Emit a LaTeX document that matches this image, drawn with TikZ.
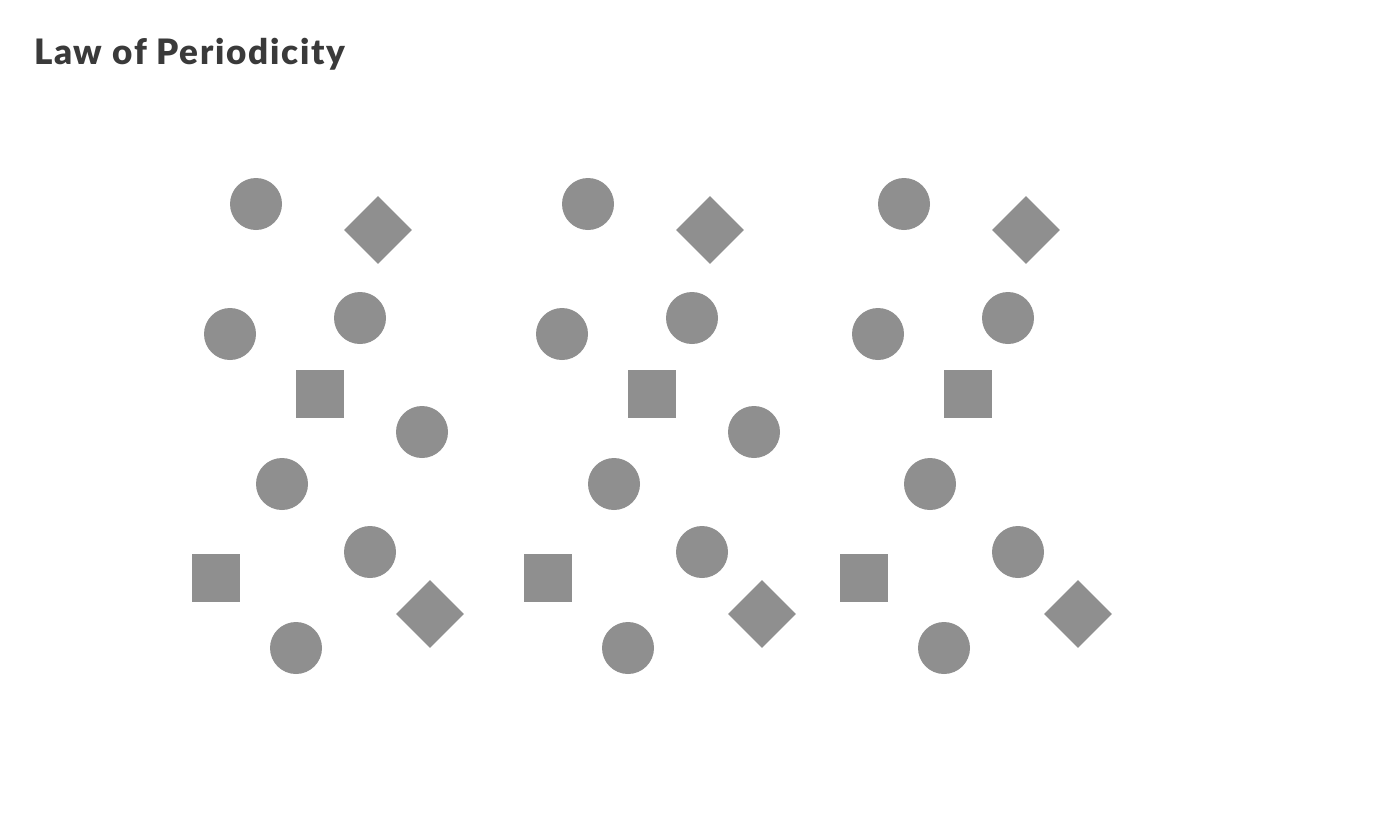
\documentclass[tikz,border=0pt]{standalone}
\usepackage{fontspec}
\setmainfont{Lato}
\newfontfamily\titlefont{Lato Black}[LetterSpace=5]
\usetikzlibrary{shapes.geometric}
\definecolor{shapegray}{HTML}{8F8F8F}
\definecolor{titlegray}{HTML}{3A3A3A}
\tikzset{
  dot/.style={circle,fill=shapegray,draw=none,inner sep=0pt,minimum size=52pt},
  sq/.style={rectangle,fill=shapegray,draw=none,inner sep=0pt,minimum size=48pt},
  dia/.style={diamond,fill=shapegray,draw=none,inner sep=0pt,minimum width=68pt,minimum height=68pt,aspect=1},
}
\begin{document}
\begin{tikzpicture}[x=1pt,y=-1pt]
\useasboundingbox (0,0) rectangle (1376,822);
\fill[white] (0,0) rectangle (1376,822);
\node[anchor=base west,inner sep=0pt,text=titlegray,font=\titlefont\fontsize{35}{40}\selectfont] (title) at (34,64) {Law of Periodicity};
\foreach \g/\dx in {a/0,b/332,c/648}{
  \node[dot] (\g c1) at (256+\dx,204) {};
  \node[dot] (\g c2) at (230+\dx,334) {};
  \node[dot] (\g c3) at (360+\dx,318) {};
  \node[dot] (\g c5) at (282+\dx,484) {};
  \node[dot] (\g c6) at (370+\dx,552) {};
  \node[dot] (\g c7) at (296+\dx,648) {};
  \node[dia] (\g d1) at (378+\dx,230) {};
  \node[dia] (\g d2) at (430+\dx,614) {};
  \node[sq] (\g s1) at (320+\dx,394) {};
  \node[sq] (\g s2) at (216+\dx,578) {};
}
\node[dot] (ac4) at (422,432) {};
\node[dot] (bc4) at (754,432) {};
\end{tikzpicture}
\end{document}
